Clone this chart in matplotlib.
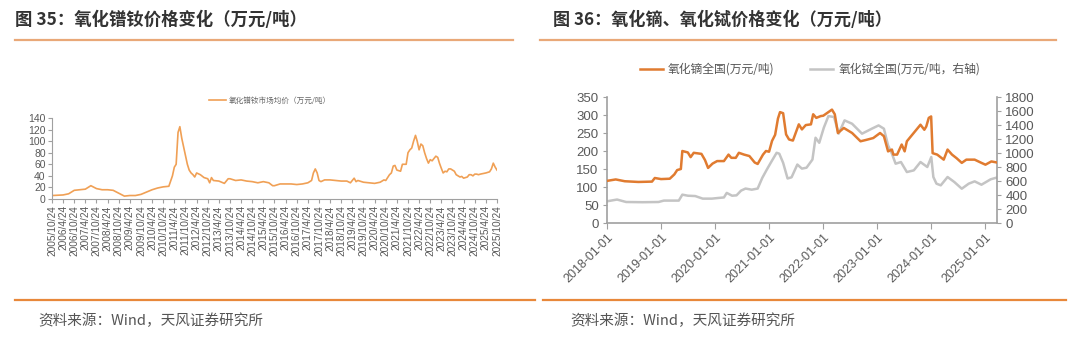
import matplotlib
matplotlib.use('Agg')
import matplotlib.pyplot as plt
import pandas as pd
from matplotlib.lines import Line2D

plt.rcParams['font.family'] = ['Liberation Sans', 'Noto Sans CJK SC', 'DejaVu Sans']

# ---- chart 35: PrNd oxide monthly average price (万元/吨)
prnd_dates = ['2005-10', '2006-04', '2006-07', '2006-10', '2007-01', '2007-04', '2007-07', '2007-10',
              '2008-01', '2008-04', '2008-07', '2008-10', '2009-01', '2009-04', '2009-07', '2009-10',
              '2010-01', '2010-04', '2010-07', '2010-10', '2011-01', '2011-03', '2011-04', '2011-05',
              '2011-06', '2011-07', '2011-08', '2011-09', '2011-10', '2011-11', '2011-12', '2012-01',
              '2012-02', '2012-03', '2012-04', '2012-06', '2012-08', '2012-10', '2012-11', '2012-12',
              '2013-01', '2013-04', '2013-07', '2013-09', '2013-10', '2014-01', '2014-04', '2014-07',
              '2014-10', '2015-01', '2015-04', '2015-07', '2015-09', '2015-10', '2016-01', '2016-04',
              '2016-07', '2016-10', '2017-01', '2017-04', '2017-06', '2017-07', '2017-08', '2017-09',
              '2017-10', '2017-11', '2018-01', '2018-04', '2018-07', '2018-10', '2019-01', '2019-03',
              '2019-05', '2019-06', '2019-07', '2019-10', '2020-01', '2020-04', '2020-07', '2020-09',
              '2020-10', '2020-12', '2021-01', '2021-02', '2021-03', '2021-04', '2021-06', '2021-07',
              '2021-09', '2021-10', '2021-11', '2021-12', '2022-01', '2022-02', '2022-03', '2022-04',
              '2022-05', '2022-06', '2022-07', '2022-08', '2022-09', '2022-10', '2022-11', '2022-12',
              '2023-01', '2023-02', '2023-03', '2023-04', '2023-05', '2023-06', '2023-07', '2023-08',
              '2023-09', '2023-10', '2023-11', '2023-12', '2024-01', '2024-02', '2024-03', '2024-04',
              '2024-05', '2024-06', '2024-07', '2024-08', '2024-09', '2024-10', '2024-11', '2024-12',
              '2025-01', '2025-04', '2025-06', '2025-07', '2025-08', '2025-09', '2025-10']
prnd_values = [6, 7, 9, 15, 16, 17, 23, 18,
               16, 16, 15, 10, 5, 6, 6, 8,
               12, 16, 19, 21, 22, 40, 55, 60,
               115, 125, 105, 90, 75, 60, 50, 45,
               42, 38, 45, 42, 37, 35, 28, 37,
               32, 31, 27, 35, 35, 32, 33, 31,
               30, 28, 30, 28, 23, 23, 26, 26,
               26, 25, 26, 28, 32, 45, 52, 45,
               32, 30, 33, 33, 32, 31, 31, 28,
               36, 30, 32, 29, 28, 27, 29, 33,
               32, 42, 45, 57, 58, 50, 48, 60,
               60, 80, 85, 88, 100, 110, 100, 85,
               95, 92, 80, 70, 62, 68, 66, 70,
               74, 72, 62, 53, 45, 48, 47, 52,
               52, 50, 48, 42, 40, 38, 39, 36,
               37, 38, 42, 42, 40, 43, 43, 42,
               43, 45, 47, 52, 62, 55, 50]
prnd_label = '氧化镨钕市场均价（万元/吨）'

# ---- chart 36: Dy oxide (left axis) and Tb oxide (right axis)
dy_dates = ['2018-01-01', '2018-03-01', '2018-05-01', '2018-08-01', '2018-11-01', '2018-11-20',
            '2019-01-01', '2019-03-01', '2019-04-01', '2019-04-20', '2019-05-15', '2019-05-25',
            '2019-07-01', '2019-07-20', '2019-08-10', '2019-10-01', '2019-10-25', '2019-11-15',
            '2019-12-15', '2020-01-15', '2020-03-01', '2020-04-01', '2020-04-20', '2020-05-20',
            '2020-06-10', '2020-07-15', '2020-08-20', '2020-09-25', '2020-10-15', '2020-11-20',
            '2020-12-10', '2020-12-31', '2021-01-20', '2021-02-10', '2021-03-01', '2021-03-15',
            '2021-04-05', '2021-04-25', '2021-05-15', '2021-06-10', '2021-07-20', '2021-08-10',
            '2021-09-05', '2021-10-10', '2021-10-25', '2021-11-15', '2021-12-15', '2022-01-01',
            '2022-03-01', '2022-03-20', '2022-04-10', '2022-05-20', '2022-07-15', '2022-09-10',
            '2022-10-20', '2022-12-05', '2023-01-20', '2023-02-15', '2023-03-15', '2023-04-10',
            '2023-04-20', '2023-05-15', '2023-06-15', '2023-07-05', '2023-07-20', '2023-08-25',
            '2023-10-20', '2023-11-15', '2023-11-28', '2023-12-15', '2023-12-31', '2024-01-10',
            '2024-02-10', '2024-03-25', '2024-04-20', '2024-05-20', '2024-06-20', '2024-07-25',
            '2024-08-25', '2024-10-20', '2024-12-05', '2025-01-01', '2025-02-10', '2025-03-20']
dy_values = [117, 121, 116, 114, 115, 125,
             122, 123, 135, 147, 150, 200,
             196, 183, 195, 192, 175, 153,
             165, 172, 172, 190, 181, 181,
             195, 190, 186, 168, 164, 190,
             200, 198, 228, 245, 290, 308,
             305, 246, 232, 229, 274, 260,
             272, 274, 302, 292, 297, 298,
             315, 302, 250, 264, 250, 227,
             231, 236, 250, 241, 199, 204,
             190, 190, 218, 199, 227, 245,
             273, 259, 268, 292, 296, 194,
             190, 176, 204, 190, 180, 167,
             176, 176, 167, 162, 171, 168]

tb_dates = ['2018-01-01', '2018-03-10', '2018-05-10', '2018-09-01', '2018-12-15', '2019-01-20',
            '2019-05-01', '2019-05-25', '2019-07-01', '2019-08-20', '2019-10-10', '2019-12-10',
            '2020-01-25', '2020-03-01', '2020-03-20', '2020-04-25', '2020-05-25', '2020-06-25',
            '2020-07-25', '2020-09-05', '2020-10-15', '2020-11-15', '2020-12-15', '2021-01-15',
            '2021-02-20', '2021-03-10', '2021-04-05', '2021-05-05', '2021-06-01', '2021-07-10',
            '2021-08-10', '2021-09-10', '2021-10-20', '2021-11-10', '2021-12-05', '2022-01-05',
            '2022-02-05', '2022-03-15', '2022-04-15', '2022-05-25', '2022-07-15', '2022-09-20',
            '2022-11-25', '2023-01-10', '2023-02-15', '2023-03-15', '2023-04-10', '2023-05-05',
            '2023-06-10', '2023-07-20', '2023-09-05', '2023-10-20', '2023-12-05', '2024-01-01',
            '2024-01-15', '2024-02-05', '2024-03-05', '2024-04-20', '2024-06-05', '2024-07-25',
            '2024-09-10', '2024-10-20', '2024-12-05', '2025-02-05', '2025-03-20']
tb_values = [310, 335, 300, 297, 300, 320,
             320, 405, 390, 385, 348, 348,
             358, 365, 430, 390, 395, 463,
             492, 476, 492, 644, 760, 874,
             1003, 990, 860, 636, 653, 835,
             777, 790, 906, 1218, 1146, 1362,
             1527, 1514, 1276, 1466, 1418, 1276,
             1347, 1394, 1347, 1109, 990, 847,
             871, 728, 752, 871, 800, 942,
             657, 562, 538, 657, 585, 490,
             562, 595, 547, 624, 650]
dy_label = '氧化镝全国(万元/吨)'
tb_label = '氧化铽全国(万元/吨，右轴)'

title_left = '图 35：氧化镨钕价格变化（万元/吨）'
title_right = '图 36：氧化镝、氧化铽价格变化（万元/吨）'
source = '资料来源：Wind，天风证券研究所'

orange = '#E8883A'
tick_col = '#595959'
spine_col = '#A0A0A0'
cjk = ['Noto Sans CJK SC', 'DejaVu Sans']

fig = plt.figure(figsize=(10.8, 3.58), dpi=100)

# header / footer decorations
fig.text(15/1080, 1-20/358, title_left, fontsize=12.5, fontweight='bold', color='#333333',
         va='center', ha='left', family=cjk)
fig.text(553/1080, 1-20/358, title_right, fontsize=12.3, fontweight='bold', color='#333333',
         va='center', ha='left', family=cjk)
fig.add_artist(Line2D([15/1080, 513/1080], [1-40/358]*2, color='#E9A878', lw=1.6))
fig.add_artist(Line2D([540/1080, 1056/1080], [1-40/358]*2, color='#E9A878', lw=1.6))
fig.add_artist(Line2D([15/1080, 535/1080], [1-300/358]*2, color=orange, lw=1.6))
fig.add_artist(Line2D([543/1080, 1066/1080], [1-300/358]*2, color=orange, lw=1.6))
fig.text(38/1080, 1-321/358, source, fontsize=10.5, color='#555555', va='center', family=cjk)
fig.text(570/1080, 1-321/358, source, fontsize=10.5, color='#555555', va='center', family=cjk)

# ---- left chart
ax1 = fig.add_axes([52/1080, 1-199/358, 445/1080, 81/358])
x1 = pd.to_datetime(prnd_dates) + pd.Timedelta(days=23)
ax1.plot(x1, prnd_values, color='#F0A055', lw=1.2, label=prnd_label)
ax1.set_ylim(0, 140)
ax1.set_yticks(range(0, 141, 20))
ticks1 = pd.date_range('2005-10-01', '2025-10-01', freq='6MS') + pd.Timedelta(days=23)
ax1.set_xlim(ticks1[0], ticks1[-1])
ax1.set_xticks(ticks1)
ax1.set_xticklabels([f'{d.year}/{d.month}/24' for d in ticks1], rotation=90, fontsize=7.3, color=tick_col)
for lab in ax1.get_yticklabels():
    lab.set_fontsize(7.5)
    lab.set_color(tick_col)
for s in ['top', 'right']:
    ax1.spines[s].set_visible(False)
for s in ['left', 'bottom']:
    ax1.spines[s].set_color(spine_col)
ax1.tick_params(axis='both', color=spine_col, length=3, width=0.8, pad=1.5)
leg1 = ax1.legend(loc='center', bbox_to_anchor=(0.49, 1.21), frameon=False, handlelength=2.2,
                  prop={'family': cjk, 'size': 5.5}, handletextpad=0.3)
for t in leg1.get_texts():
    t.set_color('#666666')

# ---- right chart
ax2 = fig.add_axes([607/1080, 1-223/358, 390/1080, 126/358])
ax3 = ax2.twinx()
ax2.plot(pd.to_datetime(dy_dates), dy_values, color='#E07B30', lw=1.8, zorder=3, label=dy_label)
ax3.plot(pd.to_datetime(tb_dates), tb_values, color='#C4C4C4', lw=1.8, zorder=2, label=tb_label)
ax2.set_zorder(ax3.get_zorder() + 1)
ax2.patch.set_visible(False)
ax2.set_ylim(0, 350)
ax2.set_yticks(range(0, 351, 50))
ax3.set_ylim(0, 1800)
ax3.set_yticks(range(0, 1801, 200))
ax2.set_xlim(pd.Timestamp('2018-01-01'), pd.Timestamp('2025-03-20'))
ticks2 = pd.date_range('2018-01-01', '2025-01-01', freq='YS')
ax2.set_xticks(ticks2)
ax2.set_xticklabels([d.strftime('%Y-%m-%d') for d in ticks2], rotation=45, ha='right',
                    rotation_mode='anchor', fontsize=9, color=tick_col)
for lab in ax2.get_yticklabels() + ax3.get_yticklabels():
    lab.set_fontsize(9.5)
    lab.set_color(tick_col)
for a in (ax2, ax3):
    a.spines['top'].set_visible(False)
    for s in ['left', 'right', 'bottom']:
        a.spines[s].set_color(spine_col)
        a.spines[s].set_linewidth(1.2)
ax2.spines['right'].set_visible(False)
ax3.spines['left'].set_visible(False)
ax3.spines['bottom'].set_visible(False)
ax2.tick_params(axis='y', color=spine_col, length=3, pad=3)
ax2.tick_params(axis='x', color=spine_col, length=4, pad=2)
ax3.tick_params(axis='y', color=spine_col, length=3, pad=3)

h2, l2 = ax2.get_legend_handles_labels()
h3, l3 = ax3.get_legend_handles_labels()
leg2 = ax2.legend(h2 + h3, l2 + l3, loc='center', bbox_to_anchor=(0.52, 1.22), ncol=2, frameon=False,
                  prop={'family': cjk, 'size': 8.5}, handlelength=2.0, columnspacing=3.0,
                  handletextpad=0.4)
for t in leg2.get_texts():
    t.set_color('#555555')

fig.savefig('out.png', dpi=100, facecolor='white')
